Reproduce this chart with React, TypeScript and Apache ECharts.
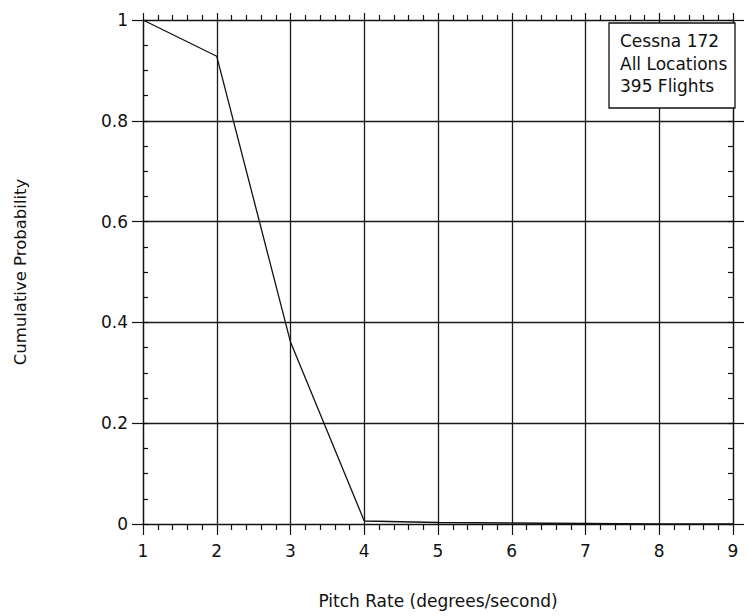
import React, { useEffect, useRef } from "react";
import * as echarts from "echarts";

const pitchRate = [1, 2, 3, 4, 5, 6, 7, 8, 9];
const cumulativeProbability = [1, 0.928, 0.361, 0.006, 0.003, 0.002, 0.001, 0.0, 0.0];
const legendLines = ["Cessna 172", "All Locations", "395 Flights"];
const xTitle = "Pitch Rate (degrees/second)";
const yTitle = "Cumulative Probability";

const FONT = "DejaVu Sans, Liberation Sans, Arial, sans-serif";
const INK = "#111";

export default function App() {
  const ref = useRef<HTMLDivElement>(null);
  useEffect(() => {
    if (!ref.current) return;
    const chart = echarts.init(ref.current, undefined, { renderer: "svg" });
    const data = pitchRate.map((x, i) => [x, cumulativeProbability[i]]);
    const lineStyle = { color: INK, width: 1.2 };
    const gridStyle = { color: "#1a1a1a", width: 1.3 };
    const base = { type: "value", axisLabel: { show: false }, splitLine: { show: false } };
    const xBase = { ...base, min: 1, max: 9, interval: 1 };
    const yBase = { ...base, min: 0, max: 1, interval: 0.2 };
    chart.setOption({
      animation: false,
      backgroundColor: "#fff",
      textStyle: { fontFamily: FONT },
      grid: { left: 143, right: 16, top: 20, bottom: 92, show: false },
      xAxis: [
        {
          ...xBase,
          position: "bottom",
          axisLine: { show: true, onZero: false, lineStyle },
          axisTick: { show: true, inside: false, length: 11, lineStyle },
          minorTick: { show: true, splitNumber: 5, length: 6, lineStyle },
          axisLabel: { show: true, margin: 18, fontSize: 17, color: INK, fontFamily: FONT },
          splitLine: { show: true, lineStyle: gridStyle },
          name: xTitle,
          nameLocation: "middle",
          nameGap: 68,
          nameTextStyle: { fontSize: 17, color: INK, fontFamily: FONT },
        },
        {
          ...xBase,
          position: "top",
          axisLine: { show: true, onZero: false, lineStyle },
          axisTick: { show: true, inside: false, length: 7, lineStyle },
          minorTick: { show: true, splitNumber: 5, length: 5, lineStyle },
        },
      ],
      yAxis: [
        {
          ...yBase,
          position: "left",
          axisLine: { show: true, onZero: false, lineStyle },
          axisTick: { show: true, inside: false, length: 11, lineStyle },
          minorTick: { show: false },
          axisLabel: { show: true, margin: 15, fontSize: 17, color: INK, fontFamily: FONT },
          splitLine: { show: true, lineStyle: gridStyle },
          name: yTitle,
          nameLocation: "middle",
          nameGap: 114,
          nameRotate: 90,
          nameTextStyle: { fontSize: 16.5, color: INK, fontFamily: FONT },
        },
        {
          ...yBase,
          position: "left",
          axisLine: { show: false },
          axisTick: { show: true, inside: true, length: 5, lineStyle },
          minorTick: { show: true, splitNumber: 4, length: 5, lineStyle },
        },
        {
          ...yBase,
          position: "right",
          axisLine: { show: true, onZero: false, lineStyle },
          axisTick: { show: true, inside: false, length: 11, lineStyle },
          minorTick: { show: false },
        },
        {
          ...yBase,
          position: "right",
          axisLine: { show: false },
          axisTick: { show: true, inside: true, length: 5, lineStyle },
          minorTick: { show: true, splitNumber: 4, length: 5, lineStyle },
        },
      ],
      series: [
        {
          type: "line",
          xAxisIndex: 0,
          yAxisIndex: 0,
          data,
          showSymbol: false,
          symbol: "none",
          lineStyle: { color: INK, width: 1.3 },
          z: 5,
        },
      ],
      graphic: [
        {
          type: "rect",
          z: 100,
          shape: { x: 609, y: 23, width: 126, height: 85 },
          style: { fill: "#fff", stroke: INK, lineWidth: 1.3 },
        },
        ...legendLines.map((t, i) => ({
          type: "text",
          z: 101,
          x: 620,
          y: 41 + i * 22.5,
          style: {
            text: t,
            fontSize: 17,
            fill: INK,
            fontFamily: FONT,
            verticalAlign: "middle",
            align: "left",
          },
        })),
      ],
    });
    return () => chart.dispose();
  }, []);
  return (
    <div
      ref={ref}
      style={{ position: "absolute", left: 0, top: 0, width: 749, height: 616 }}
    />
  );
}
